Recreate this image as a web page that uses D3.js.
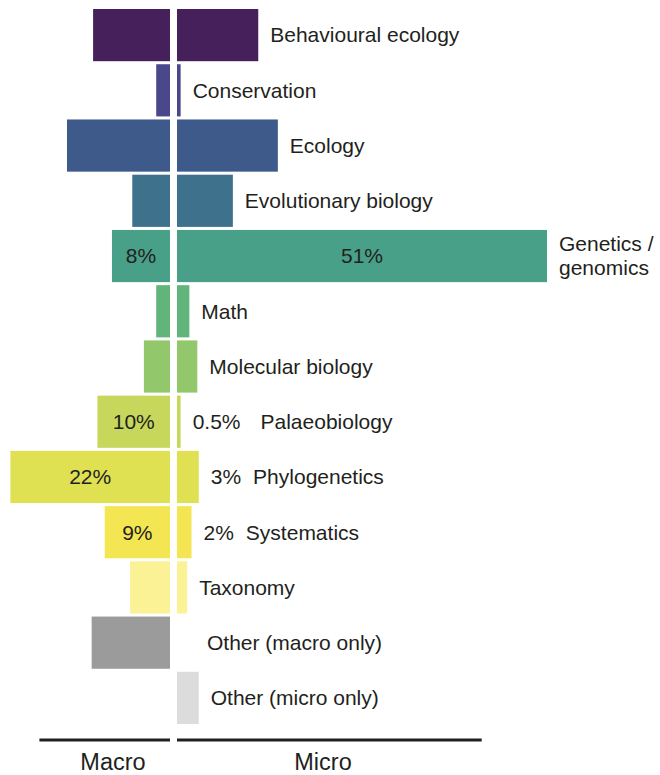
<!DOCTYPE html>
<html lang="en">
<head>
<meta charset="utf-8"/>
<title>Macro vs micro</title>
<style>
  * { margin: 0; padding: 0; }
  body { background: #fff; }
  svg { display: block; }
  text { font-family: "Liberation Sans", Arial, Helvetica, sans-serif; fill: #231f20; }
  text.name, text.pct { font-size: 21px; }
  text.side { font-size: 23.5px; }
</style>
<script src="https://d3js.org/d3.v7.min.js"></script>
</head>
<body>
<div id="chart"></div>
<script>
// research field categories (one row each)
const categories = ["Behavioural ecology", "Conservation", "Ecology", "Evolutionary biology",
  "Genetics /\ngenomics", "Math", "Molecular biology", "Palaeobiology", "Phylogenetics",
  "Systematics", "Taxonomy", "Other (macro only)", "Other (micro only)"];
// percentages
const macro = [10.6, 1.9, 14.2, 5.2, 8, 1.9, 3.6, 10, 22, 9, 5.5, 10.8, 0];
const micro = [11.2, 0.5, 13.9, 7.7, 51, 1.7, 2.8, 0.5, 3, 2, 1.4, 0, 3];
// rows whose percentage is written on the chart
const macroShown = [4, 7, 8, 9];
const microShown = [4, 7, 8, 9];
const colours = ["#45205a", "#4a478a", "#3e5a8a", "#3e728c", "#48a088", "#62b57a", "#92c76c",
  "#c6d75c", "#dfe052", "#f4e652", "#fbf296", "#9b9b9b", "#dcdcdc"];
const sideNames = ["Macro", "Micro"];
const axisExtent = [18, 42];

const W = 660, H = 775;
const centreL = 170, centreR = 177;

const svg = d3.select("#chart").append("svg").attr("width", W).attr("height", H);

const y = d3.scaleBand().domain(d3.range(categories.length)).range([9, 724]).paddingInner(0.055);
const w = d3.scaleLinear().domain([0, 51]).range([0, 370]);

const rows = categories.map((c, i) => ({i, name: c, macro: macro[i], micro: micro[i], col: colours[i]}));

// macro bars (to the left)
svg.append("g").selectAll("rect").data(rows.filter(d => d.macro > 0)).join("rect")
  .attr("x", d => centreL - w(d.macro))
  .attr("y", d => y(d.i))
  .attr("width", d => w(d.macro))
  .attr("height", y.bandwidth())
  .attr("fill", d => d.col);

// micro bars (to the right)
svg.append("g").selectAll("rect").data(rows.filter(d => d.micro > 0)).join("rect")
  .attr("x", centreR)
  .attr("y", d => y(d.i))
  .attr("width", d => w(d.micro))
  .attr("height", y.bandwidth())
  .attr("fill", d => d.col);

const pct = v => v + "%";

// macro percentages inside bars
svg.append("g").selectAll("text").data(macroShown.map(i => rows[i])).join("text")
  .attr("class", "pct")
  .attr("x", d => centreL - w(d.macro) / 2)
  .attr("y", d => y(d.i) + y.bandwidth() / 2)
  .attr("dy", "0.35em")
  .attr("text-anchor", "middle")
  .text(d => pct(d.macro));

// names (+ micro percentage if it fits outside the bar)
const lab = svg.append("g");
rows.forEach(d => {
  const cy = y(d.i) + y.bandwidth() / 2;
  let x = centreR + w(d.micro) + 12;
  if (d.micro === 0) x = centreR + 30;
  if (microShown.includes(d.i)) {
    const inside = w(d.micro) > 60;
    const t = lab.append("text").attr("class", "pct")
      .attr("y", cy).attr("dy", "0.35em")
      .text(pct(d.micro));
    if (inside) {
      t.attr("x", centreR + w(d.micro) / 2).attr("text-anchor", "middle");
    } else {
      t.attr("x", x);
      x += t.node().getComputedTextLength() + (d.micro < 1 ? 20 : 12);
    }
  }
  const lines = d.name.split("\n");
  const t = lab.append("text").attr("class", "name").attr("x", x).attr("y", cy);
  lines.forEach((ln, k) => {
    t.append("tspan").attr("x", x)
      .attr("dy", k === 0 ? (0.35 - (lines.length - 1) * 0.57) + "em" : "1.14em")
      .text(ln);
  });
});

// bottom rules and side names
const axisY = 740;
svg.append("line").attr("x1", centreL - w(axisExtent[0])).attr("x2", centreL)
  .attr("y1", axisY).attr("y2", axisY).attr("stroke", "#231f20").attr("stroke-width", 3);
svg.append("line").attr("x1", centreR).attr("x2", centreR + w(axisExtent[1]))
  .attr("y1", axisY).attr("y2", axisY).attr("stroke", "#231f20").attr("stroke-width", 3);

svg.append("text").attr("class", "side").attr("x", 113).attr("y", 770)
  .attr("text-anchor", "middle").text(sideNames[0]);
svg.append("text").attr("class", "side").attr("x", 323).attr("y", 770)
  .attr("text-anchor", "middle").text(sideNames[1]);
</script>
</body>
</html>
